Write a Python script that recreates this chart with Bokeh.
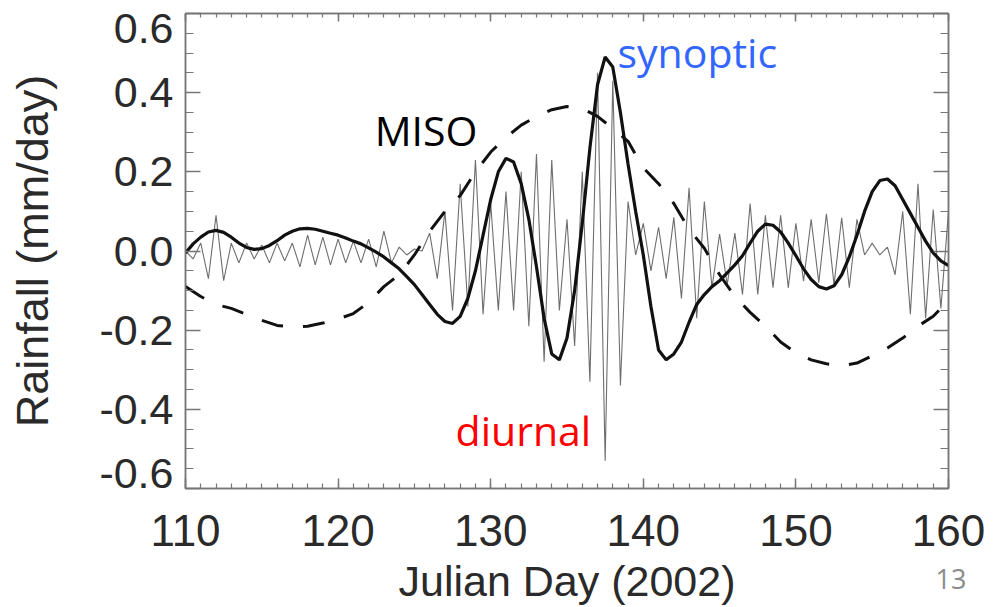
import numpy as np
from bokeh.plotting import figure
from bokeh.models import LinearAxis, FixedTicker, Label, GridBox
from bokeh.embed import file_html
from bokeh.resources import INLINE

# ---------------- data ----------------
X_TICKS = [110, 120, 130, 140, 150, 160]
Y_TICKS = [-0.6, -0.4, -0.2, 0.0, 0.2, 0.4, 0.6]

# MISO (dashed), daily
miso_day = list(range(110, 161))
miso_val = [-0.09, -0.115, -0.135, -0.145, -0.16, -0.175, -0.188, -0.192, -0.19, -0.182,
            -0.172, -0.158, -0.13, -0.09, -0.06, -0.01, 0.05, 0.1, 0.14, 0.2,
            0.25, 0.287, 0.318, 0.34, 0.357, 0.365, 0.36, 0.34, 0.31, 0.277,
            0.21, 0.17, 0.12, 0.055, 0.007, -0.06, -0.115, -0.155, -0.19, -0.23,
            -0.257, -0.275, -0.285, -0.29, -0.283, -0.265, -0.245, -0.22, -0.19, -0.165,
            -0.125]

# synoptic (thick solid), every half day
syn_day = [110 + 0.5 * i for i in range(101)]
syn_val = [-0.005, 0.018, 0.035, 0.048, 0.052, 0.047, 0.035, 0.02, 0.009, 0.004,
           0.006, 0.014, 0.026, 0.04, 0.05, 0.056, 0.057, 0.055, 0.05, 0.045,
           0.04, 0.033, 0.025, 0.018, 0.008, -0.003, -0.015, -0.03, -0.045, -0.065,
           -0.085, -0.11, -0.135, -0.16, -0.178, -0.183, -0.165, -0.12, -0.05, 0.04,
           0.13, 0.2, 0.234, 0.225, 0.17, 0.08, -0.04, -0.17, -0.26, -0.275,
           -0.22, -0.1, 0.07, 0.26, 0.42, 0.49, 0.465, 0.35, 0.22, 0.1,
           -0.01, -0.14, -0.25, -0.275, -0.26, -0.23, -0.18, -0.135, -0.11, -0.09,
           -0.075, -0.055, -0.035, -0.012, 0.02, 0.05, 0.068, 0.065, 0.048, 0.02,
           -0.012, -0.045, -0.072, -0.09, -0.096, -0.088, -0.06, -0.015, 0.04, 0.1,
           0.15, 0.178, 0.182, 0.165, 0.13, 0.095, 0.06, 0.025, -0.005, -0.025,
           -0.037]

# diurnal (thin grey), every half day
diu_day = [110 + 0.5 * i for i in range(101)]
diu_val = [0.0, -0.02, 0.02, -0.07, 0.09, -0.075, 0.02, -0.03, 0.02, -0.02,
           0.015, -0.03, 0.02, -0.025, 0.02, -0.04, 0.04, -0.035, 0.035, -0.035,
           0.03, -0.03, 0.025, -0.03, 0.03, -0.04, 0.05, -0.03, 0.01, -0.01,
           0.005, 0.0, 0.045, -0.07, 0.1, -0.15, 0.17, -0.14, 0.23, -0.16,
           0.12, -0.15, 0.15, -0.15, 0.2, -0.19, 0.245, -0.28, 0.23, -0.15,
           0.08, -0.24, 0.2, -0.33, 0.45, -0.53, 0.43, -0.34, 0.125, -0.01,
           0.07, -0.05, 0.06, -0.07, 0.085, -0.12, 0.16, -0.17, 0.125, -0.093,
           0.043, -0.085, 0.045, -0.11, 0.12, -0.11, 0.09, -0.093, 0.09, -0.093,
           0.07, -0.076, 0.08, -0.08, 0.094, -0.085, 0.084, -0.093, 0.08, -0.01,
           0.02, -0.01, 0.01, -0.06, 0.1, -0.16, 0.17, -0.17, 0.105, -0.145,
           0.1]

W, H = 1003, 607

# ---------------- figure ----------------
p = figure(width=W, height=H, x_range=(110, 160), y_range=(-0.6, 0.6),
           output_backend="svg", toolbar_location=None, title=None,
           x_axis_type=None, y_axis_type=None,
           min_border_left=185, min_border_right=55, min_border_top=13, min_border_bottom=119)
p.xgrid.visible = False
p.ygrid.visible = False
p.outline_line_color = "#777777"
p.outline_line_width = 1.5
p.background_fill_color = "white"
p.border_fill_color = "white"

FONT = "Liberation Sans"
TXT = "#2a2a2a"
AX = "#777777"

x_minor = list(np.arange(110, 160.01, 1.0))
y_minor = list(np.round(np.arange(-0.6, 0.601, 0.05), 3))

def style(ax, ticks, minor, tin, tmin, labels=True):
    ax.ticker = FixedTicker(ticks=ticks, minor_ticks=minor)
    ax.axis_line_color = AX
    ax.axis_line_width = 1.5
    ax.major_tick_line_color = AX
    ax.minor_tick_line_color = AX
    ax.major_tick_line_width = 1.5
    ax.minor_tick_line_width = 1.2
    ax.major_tick_in = tin
    ax.major_tick_out = 0
    ax.minor_tick_in = tmin
    ax.minor_tick_out = 0
    if not labels:
        ax.major_label_text_font_size = "0px"
        ax.major_label_standoff = 0

xb = LinearAxis(axis_label="Julian Day (2002)")
style(xb, X_TICKS, x_minor, 10, 5)
xb.major_label_text_font = FONT
xb.major_label_text_font_size = "44px"
xb.major_label_text_color = TXT
xb.major_label_standoff = 26
xb.axis_label_text_font = FONT
xb.axis_label_text_font_size = "43px"
xb.axis_label_text_font_style = "normal"
xb.axis_label_text_color = TXT
xb.axis_label_standoff = 8
p.add_layout(xb, "below")

xt = LinearAxis()
style(xt, X_TICKS, x_minor, 8, 4, labels=False)
p.add_layout(xt, "above")

# left axis: ticks only (nearest the frame)
yl = LinearAxis()
style(yl, Y_TICKS, y_minor, 15, 8, labels=False)
p.add_layout(yl, "left")

# left axis: tick labels; the end labels sit a little inside the frame, as in the source figure
inset = 15 / 395.8
lab_pos = [round(float(np.sign(t) * (abs(t) - inset)) if abs(t) > 0.59 else float(t), 4) for t in Y_TICKS]
lab_txt = {pos: f"{t:.1f}" for pos, t in zip(lab_pos, Y_TICKS)}
yl2 = LinearAxis(axis_label="Rainfall (mm/day)")
yl2.ticker = FixedTicker(ticks=lab_pos, minor_ticks=[])
yl2.major_label_overrides = lab_txt
yl2.axis_line_color = None
yl2.major_tick_line_color = None
yl2.minor_tick_line_color = None
yl2.major_tick_in = 0
yl2.major_tick_out = 0
yl2.major_label_text_font = FONT
yl2.major_label_text_font_size = "43px"
yl2.major_label_text_color = TXT
yl2.major_label_standoff = 12
yl2.axis_label_text_font = FONT
yl2.axis_label_text_font_size = "45px"
yl2.axis_label_text_font_style = "normal"
yl2.axis_label_text_color = TXT
yl2.axis_label_standoff = 38
p.add_layout(yl2, "left")

yr = LinearAxis()
style(yr, Y_TICKS, y_minor, 15, 8, labels=False)
p.add_layout(yr, "right")

# ---------------- series ----------------
p.line(diu_day, diu_val, line_color="#6e6e6e", line_width=1.1)
p.line(miso_day, miso_val, line_color="#111111", line_width=3, line_dash="22 20")
p.line(syn_day, syn_val, line_color="#111111", line_width=3.2)

# ---------------- annotations ----------------
ANN_FONT = "Open Sans"
p.add_layout(Label(x=122.4, y=0.3045, text="MISO", text_font=ANN_FONT, text_font_size="41px",
                   text_color="black", text_baseline="alphabetic"))
p.add_layout(Label(x=138.31, y=0.5015, text="synoptic", text_font=ANN_FONT, text_font_size="41px",
                   text_color="#3366ff", text_baseline="alphabetic"))
p.add_layout(Label(x=127.7, y=-0.453, text="diurnal", text_font=ANN_FONT, text_font_size="41px",
                   text_color="#ff0000", text_baseline="alphabetic"))

# transparent overlay page (same size) carrying the slide's page number
ov = figure(width=W, height=H, x_range=(0, W), y_range=(H, 0),
            output_backend="svg", toolbar_location=None, title=None,
            x_axis_type=None, y_axis_type=None, min_border=0)
ov.xgrid.visible = False
ov.ygrid.visible = False
ov.outline_line_color = None
ov.background_fill_color = None
ov.border_fill_color = None
for fig in (p, ov):
    if "frame_align" in fig.properties():
        fig.frame_align = False
ov.add_layout(Label(x=935, y=578, text="13", text_font=ANN_FONT, text_font_size="27px",
                    text_color="#8c8c8c", text_baseline="alphabetic"))

layout = GridBox(children=[(p, 0, 0), (ov, 0, 0)])
open("out.html", "w").write(file_html(layout, INLINE))
